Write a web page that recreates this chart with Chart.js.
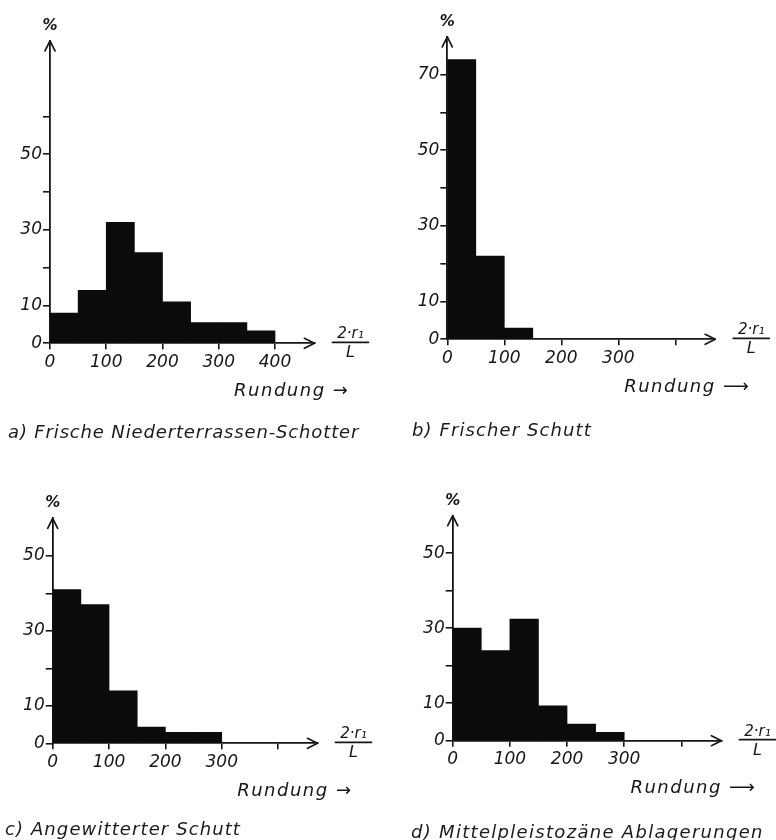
<!DOCTYPE html>
<html>
<head>
<meta charset="utf-8">
<script src="https://cdn.jsdelivr.net/npm/chart.js@4.4.1/dist/chart.umd.min.js"></script>
<style>
  html, body { margin: 0; padding: 0; background: #fff; }
  #page { position: relative; width: 776px; height: 840px; overflow: hidden; }
  #page canvas { position: absolute; left: 0; top: 0; }
  .caption {
    position: absolute;
    font: italic 18px "DejaVu Sans", sans-serif;
    line-height: 18px;
    letter-spacing: 0.85px;
    color: #1b1b1b;
    white-space: nowrap;
  }
</style>
</head>
<body>
<div id="page">
  <canvas id="chartA" width="776" height="840"></canvas>
  <canvas id="chartB" width="776" height="840"></canvas>
  <canvas id="chartC" width="776" height="840"></canvas>
  <canvas id="chartD" width="776" height="840"></canvas>
  <div class="caption" style="left:8px; top:423px">a) Frische Niederterrassen-Schotter</div>
  <div class="caption" style="left:412px; top:421px; letter-spacing:1.1px">b) Frischer Schutt</div>
  <div class="caption" style="left:5px; top:820px; letter-spacing:1.1px">c) Angewitterter Schutt</div>
  <div class="caption" style="left:411px; top:823px; letter-spacing:1.3px">d) Mittelpleistozäne Ablagerungen</div>
</div>
<script>
// lower edge of each Rundung class (2·r1/L), classes are 50 wide
const binStarts = [0, 50, 100, 150, 200, 250, 300, 350];
const binWidth = 50;

// percentages per class
const freshGravel = [8, 14, 32, 24, 11, 5.5, 5.5, 3.3];   // a)
const freshDebris = [74, 22, 3];                           // b)
const weatheredDebris = [41, 37, 14, 4.3, 2.9, 2.9];       // c)
const midPleistocene = [30, 24, 32.4, 9.3, 4.4, 2.2];      // d)

const yLabels = [0, 10, 30, 50, 70];
const xLabelsA = [0, 100, 200, 300, 400];
const xLabelsRest = [0, 100, 200, 300];

const INK = '#161616';
const BAR = '#0b0b0b';
const FONT = '"DejaVu Sans", sans-serif';
const Y_BOX = 45;   // room kept for y tick labels
const X_BOX = 40;   // room kept for x tick labels

// arrow heads, % sign, 2·r1/L fraction and "Rundung" label
const axisDecor = {
  id: 'axisDecor',
  afterDraw(chart, args, opts) {
    const { ctx } = chart;
    const { left, right, top, bottom } = chart.chartArea;
    ctx.save();
    ctx.strokeStyle = INK;
    ctx.fillStyle = INK;
    ctx.lineWidth = 1.7;
    ctx.lineCap = 'round';
    ctx.lineJoin = 'round';

    ctx.beginPath();
    ctx.moveTo(right - 10, bottom - 5);
    ctx.lineTo(right, bottom);
    ctx.lineTo(right - 10, bottom + 5);
    ctx.moveTo(left - 5, top + 10);
    ctx.lineTo(left, top);
    ctx.lineTo(left + 5, top + 10);
    ctx.stroke();

    ctx.textAlign = 'center';
    ctx.textBaseline = 'middle';
    ctx.font = 'italic bold 15px ' + FONT;
    ctx.fillText('%', left, top - 15);

    // fraction 2·r1 / L
    const fx = right + 36;
    const fy = bottom - 1;
    ctx.font = 'italic 15px ' + FONT;
    ctx.fillText('2·r₁', fx, fy - 8);
    ctx.font = 'italic 16px ' + FONT;
    ctx.fillText('L', fx, fy + 11);
    ctx.lineWidth = 1.8;
    ctx.beginPath();
    ctx.moveTo(fx - 18, fy);
    ctx.lineTo(fx + 18, fy);
    ctx.stroke();

    ctx.textAlign = 'right';
    ctx.font = 'italic 18px ' + FONT;
    ctx.letterSpacing = '1.5px';
    ctx.fillText(opts.runLabel, right + 35, bottom + 48);
    ctx.restore();
  }
};

function makeHistogram(id, values, cfg) {
  const data = values.map((v, i) => ({ x: binStarts[i] + binWidth / 2, y: v }));
  return new Chart(document.getElementById(id), {
    type: 'bar',
    data: {
      datasets: [{
        data: data,
        backgroundColor: BAR,
        borderWidth: 0,
        barPercentage: 1,
        categoryPercentage: 1
      }]
    },
    options: {
      responsive: false,
      animation: false,
      events: [],
      layout: {
        padding: {
          left: cfg.left - Y_BOX,
          top: cfg.top,
          right: 776 - cfg.right,
          bottom: 840 - cfg.bottom - X_BOX
        }
      },
      plugins: {
        legend: { display: false },
        tooltip: { enabled: false },
        axisDecor: { runLabel: cfg.runLabel }
      },
      scales: {
        x: {
          type: 'linear',
          min: 0,
          max: 470,
          offset: false,
          grid: { offset: false, drawOnChartArea: false, tickLength: 6, color: INK, lineWidth: 1.6 },
          border: { display: true, color: INK, width: 1.8 },
          ticks: {
            stepSize: 100,
            includeBounds: false,
            autoSkip: false,
            maxRotation: 0,
            padding: 3,
            color: INK,
            font: { family: FONT, size: 17, style: 'italic' },
            callback: v => v > 400 ? null : (cfg.xLabels.includes(v) ? String(v) : '')
          },
          afterFit: s => { s.height = X_BOX; s.paddingLeft = 0; s.paddingRight = 0; }
        },
        y: {
          min: 0,
          max: cfg.yMax,
          grid: { drawOnChartArea: false, tickLength: 7, color: INK, lineWidth: 1.6 },
          border: { display: true, color: INK, width: 1.8 },
          ticks: {
            stepSize: 10,
            autoSkip: false,
            padding: 1,
            color: INK,
            font: { family: FONT, size: 17, style: 'italic' },
            callback: v => v > cfg.tickMax ? null : (yLabels.includes(v) ? String(v) : '')
          },
          afterFit: s => { s.width = Y_BOX; s.paddingTop = 0; s.paddingBottom = 0; }
        }
      }
    },
    plugins: [axisDecor]
  });
}

makeHistogram('chartA', freshGravel, {
  left: 50, right: 314.4, top: 40.9, bottom: 343.3,
  yMax: 80, tickMax: 60, xLabels: xLabelsA, runLabel: 'Rundung →'
});
makeHistogram('chartB', freshDebris, {
  left: 447.3, right: 715.2, top: 36.9, bottom: 339.3,
  yMax: 80, tickMax: 70, xLabels: xLabelsRest, runLabel: 'Rundung ⟶'
});
makeHistogram('chartC', weatheredDebris, {
  left: 52.7, right: 317.5, top: 518.3, bottom: 743.3,
  yMax: 60, tickMax: 50, xLabels: xLabelsRest, runLabel: 'Rundung →'
});
makeHistogram('chartD', midPleistocene, {
  left: 452.7, right: 721.4, top: 515.7, bottom: 740.7,
  yMax: 60, tickMax: 50, xLabels: xLabelsRest, runLabel: 'Rundung ⟶'
});
</script>
</body>
</html>
